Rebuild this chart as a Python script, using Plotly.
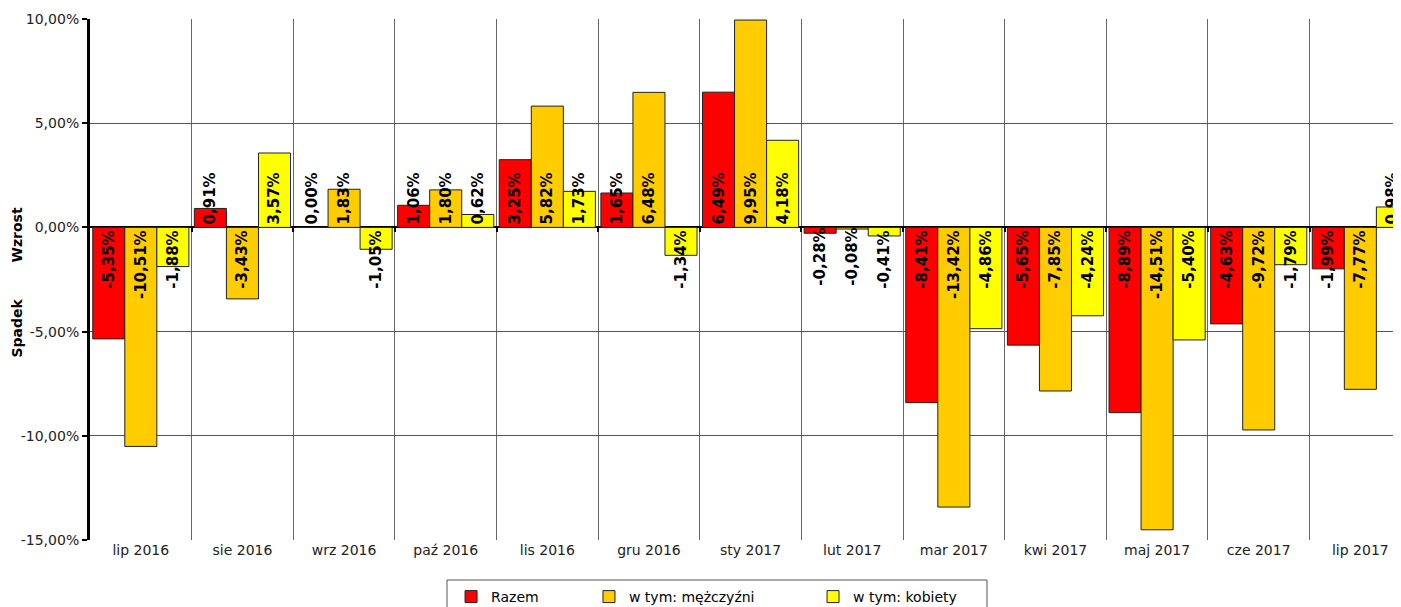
import plotly.graph_objects as go

categories = ["lip 2016", "sie 2016", "wrz 2016", "paź 2016", "lis 2016", "gru 2016",
              "sty 2017", "lut 2017", "mar 2017", "kwi 2017", "maj 2017", "cze 2017", "lip 2017"]
razem = [-5.35, 0.91, 0.00, 1.06, 3.25, 1.65, 6.49, -0.28, -8.41, -5.65, -8.89, -4.63, -1.99]
mezczyzni = [-10.51, -3.43, 1.83, 1.80, 5.82, 6.48, 9.95, -0.08, -13.42, -7.85, -14.51, -9.72, -7.77]
kobiety = [-1.88, 3.57, -1.05, 0.62, 1.73, -1.34, 4.18, -0.41, -4.86, -4.24, -5.40, -1.79, 0.98]
series_names = ["Razem", "w tym: mężczyźni", "w tym: kobiety"]
series_colors = ["#FF0000", "#FFCC00", "#FFFF00"]
y_ticks = [10, 5, 0, -5, -10, -15]

FONT = "Verdana, DejaVu Sans, sans-serif"


def fmt(v):
    return f"{v:.2f}%".replace(".", ",")


legend_ids = ["legend", "legend2", "legend3"]
legend_x = [0.2754, 0.3806, 0.5515]

fig = go.Figure()
for name, vals, col, lid in zip(series_names, [razem, mezczyzni, kobiety], series_colors, legend_ids):
    fig.add_trace(go.Bar(
        x=categories, y=vals, name=name, legend=lid, showlegend=True,
        marker=dict(color=col, line=dict(color="#222222", width=1)),
        text=[fmt(v) for v in vals],
        textposition=["outside" if v == 0 else "inside" for v in vals],
        insidetextanchor="start", textangle=-90,
        constraintext="none",
        textfont=dict(family=FONT, size=15, color="black", weight="bold"),
        hoverinfo="x+y+name",
    ))

# helper axis carrying the tick marks on the zero line
fig.add_trace(go.Scatter(x=[], y=[], xaxis="x2", yaxis="y", showlegend=False, hoverinfo="skip"))

legend_common = dict(
    orientation="h", xanchor="left", y=-0.0787, yanchor="top",
    borderwidth=0, bgcolor="rgba(0,0,0,0)",
    font=dict(family=FONT, size=14, color="black"), itemwidth=30,
)

fig.update_layout(
    width=1393, height=599, showlegend=True,
    margin=dict(l=82, r=0, t=11, b=67, autoexpand=False),
    plot_bgcolor="white", paper_bgcolor="white",
    barmode="group", bargap=0.054, bargroupgap=0,
    font=dict(family=FONT, size=14, color="#222222"),
    xaxis=dict(
        type="category", range=[-0.5, 12.4], tickson="boundaries",
        showgrid=True, gridcolor="#666666", gridwidth=1,
        ticks="", showline=False, zeroline=False,
        tickfont=dict(family=FONT, size=14, color="#222222"),
    ),
    xaxis2=dict(
        overlaying="x", anchor="free", position=0.6, type="linear",
        range=[-0.5, 12.4], tickvals=[i + 0.5 for i in range(12)],
        ticks="outside", ticklen=4, tickwidth=2, tickcolor="black",
        showticklabels=False, showgrid=False, showline=False, zeroline=False,
    ),
    yaxis=dict(
        range=[-15, 10], tickvals=y_ticks, ticktext=[fmt(v) for v in y_ticks],
        showgrid=True, gridcolor="#555555", gridwidth=1,
        zeroline=True, zerolinecolor="black", zerolinewidth=2,
        showline=True, linecolor="black", linewidth=3,
        ticks="outside", ticklen=5, tickwidth=2, tickcolor="black",
        tickfont=dict(family=FONT, size=14, color="#222222"),
    ),
    legend=dict(legend_common, x=legend_x[0]),
    legend2=dict(legend_common, x=legend_x[1]),
    legend3=dict(legend_common, x=legend_x[2]),
    shapes=[dict(type="rect", xref="paper", yref="paper",
                 x0=0.2723, x1=0.6842, y0=-0.0768, y1=-0.2,
                 line=dict(color="#555555", width=1), fillcolor="rgba(0,0,0,0)", layer="below")],
    annotations=[
        dict(text="<b>Wzrost</b>", xref="paper", yref="paper", x=-0.0553, y=0.5854,
             xanchor="center", yanchor="middle",
             textangle=-90, showarrow=False, font=dict(family=FONT, size=14, color="black")),
        dict(text="<b>Spadek</b>", xref="paper", yref="paper", x=-0.0553, y=0.4069,
             xanchor="center", yanchor="middle",
             textangle=-90, showarrow=False, font=dict(family=FONT, size=14, color="black")),
    ],
)

fig.write_html("out.html")
